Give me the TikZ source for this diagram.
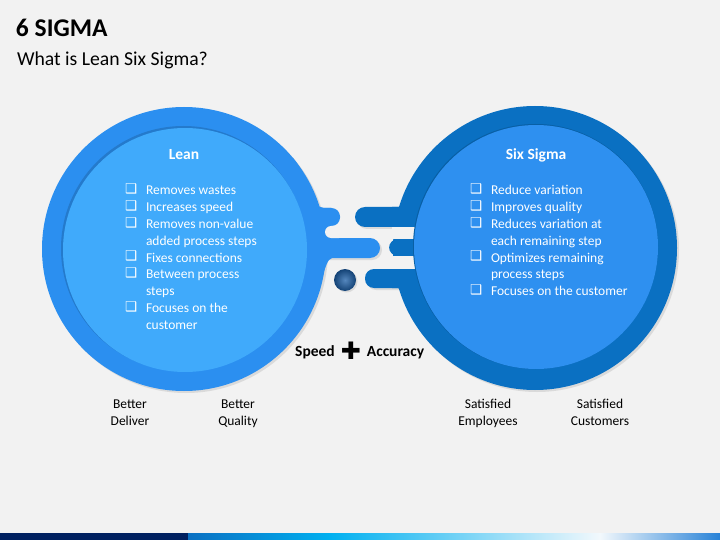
\documentclass[tikz,border=0pt]{standalone}
\usepackage{fontspec}
\setmainfont{Carlito}
\newfontfamily\symfont{DejaVu Sans}
\usetikzlibrary{positioning}
\definecolor{bg}{HTML}{F2F2F2}
\definecolor{lring}{HTML}{2B8FF0}
\definecolor{lfill}{HTML}{40AAFB}
\definecolor{rring}{HTML}{0A70C2}
\definecolor{rfill}{HTML}{2E90F0}
\definecolor{shadowgrey}{HTML}{DADADA}
\definecolor{navy}{HTML}{002060}
\definecolor{dotblue}{HTML}{1C5FA8}
\newcommand{\cb}{\makebox[21pt][l]{\raisebox{1.5pt}{\symfont\fontsize{13.5}{13.5}\selectfont ❑}}}

\begin{document}
\begin{tikzpicture}
  [x=1pt,y=-1pt,every node/.style={inner sep=0pt,outer sep=0pt}]
  \tikzstyle{heading} = [text=white,anchor=base,font=\fontsize{15.5}{18}\selectfont\bfseries]
  \tikzstyle{bullets} = [text=white,anchor=base west,font=\fontsize{13.5}{16.8}\selectfont]
  \tikzstyle{foot} = [align=center,anchor=base,font=\fontsize{13.5}{16.5}\selectfont]
  \tikzstyle{bold} = [anchor=base,font=\fontsize{15.5}{18}\selectfont\bfseries]
  \fill[bg] (0,0) rectangle (720,540);

  \node[anchor=base west,font=\fontsize{25.5}{28}\selectfont\bfseries] (title) at (16,37) {6 SIGMA};
  \node[anchor=base west,font=\fontsize{19.7}{22}\selectfont] (subtitle) at (17,66) {What is Lean Six Sigma?};

  % shadows
  \fill[shadowgrey] (186,251) circle (142pt);
  \fill[shadowgrey] (537,250) circle (142pt);
  \fill[shadowgrey,rounded corners=10] (300,240) rectangle (382,260);
  \fill[shadowgrey,rounded corners=10] (357,209) rectangle (420,229);
  \fill[shadowgrey,rounded corners=9] (391,241) rectangle (420,258);
  \fill[shadowgrey,rounded corners=9] (367,271) rectangle (420,290);
  \fill[shadowgrey] (346.5,281.5) circle (11pt);

  % lean
  \fill[lring] (184,249) circle (142pt);
  \fill[lring] (293,158) .. controls (310,178) and (310,208) .. (324,208) -- (331,208)
    -- (331,258) -- (332,258) .. controls (323,260) and (324,290) .. (298,333) -- (250,249) -- cycle;
  \fill[lring,rounded corners=8.5] (280,208) rectangle (340,226);
  \fill[lring,rounded corners=10] (280,238) rectangle (380,258);
  \fill[bg,rounded corners=6] (325,226) rectangle (345,238);
  \fill[lring!85!black] (183.5,248.5) circle (122.5pt);
  \fill[lfill] (185,250) circle (122pt);

  % six sigma
  \fill[rring] (535,248) circle (142pt);
  \fill[rring] (392,207) -- (398,207) .. controls (402,206) .. (405,195) -- (420,215) -- cycle;
  \fill[rring] (392,288) -- (398,288) .. controls (401,289) .. (403,297) -- (420,280) -- cycle;
  \fill[rring,rounded corners=10] (355,207) rectangle (430,227);
  \fill[rring,rounded corners=9] (389,239) rectangle (430,256);
  \fill[rring,rounded corners=9] (365,269) rectangle (430,288);
  \fill[bg] (392,227) rectangle (425,239);
  \fill[bg] (392,256) rectangle (425,269);
  \fill[rring!85!black] (535.5,246.5) circle (122.5pt);
  \fill[rfill] (536,247) circle (122pt);

  \shade[inner color=dotblue!75!white,outer color=dotblue!70!black] (345,280) circle (11pt);

  \node[heading] (lean) at (184,160) {Lean};
  \node[heading] (sigma) at (536,160) {Six Sigma};

  \node[bullets] (leanlist) at (125,195) {\begin{tabular}[t]{@{}l@{}l@{}}
    \cb & Removes wastes\\
    \cb & Increases speed\\
    \cb & Removes non-value\\
        & added process steps\\
    \cb & Fixes connections\\
    \cb & Between process\\
        & steps\\
    \cb & Focuses on the\\
        & customer
  \end{tabular}};
  \node[bullets] (sigmalist) at (470,195) {\begin{tabular}[t]{@{}l@{}l@{}}
    \cb & Reduce variation\\
    \cb & Improves quality\\
    \cb & Reduces variation at\\
        & each remaining step\\
    \cb & Optimizes remaining\\
        & process steps\\
    \cb & Focuses on the customer
  \end{tabular}};

  \node[bold] (speed) at (315,356) {Speed};
  \node[base right=6pt of speed,font=\symfont\fontsize{24}{24}\selectfont,yshift=-3pt] (plus) {✚};
  \node[base right=6pt of plus,yshift=3pt,font=\fontsize{15.5}{18}\selectfont\bfseries] (accuracy) {Accuracy};

\foreach \name/\x/\txt in {deliver/130/{Better\\Deliver},quality/238/{Better\\Quality},employees/488/{Satisfied\\Employees},customers/600/{Satisfied\\Customers}}
   \node[foot] (\name) at (\x,425) {\txt};

  \fill[navy] (0,533) rectangle (188,540);
  \shade[left color=rring,right color={rgb,255:red,0;green,176;blue,240}] (188,533) rectangle (330,540);
  \shade[left color={rgb,255:red,0;green,176;blue,240},right color={rgb,255:red,242;green,248;blue,252}] (330,533) rectangle (600,540);
  \shade[left color={rgb,255:red,242;green,248;blue,252},right color={rgb,255:red,40;green,130;blue,215}] (600,533) rectangle (720,540);
\end{tikzpicture}
\end{document}
